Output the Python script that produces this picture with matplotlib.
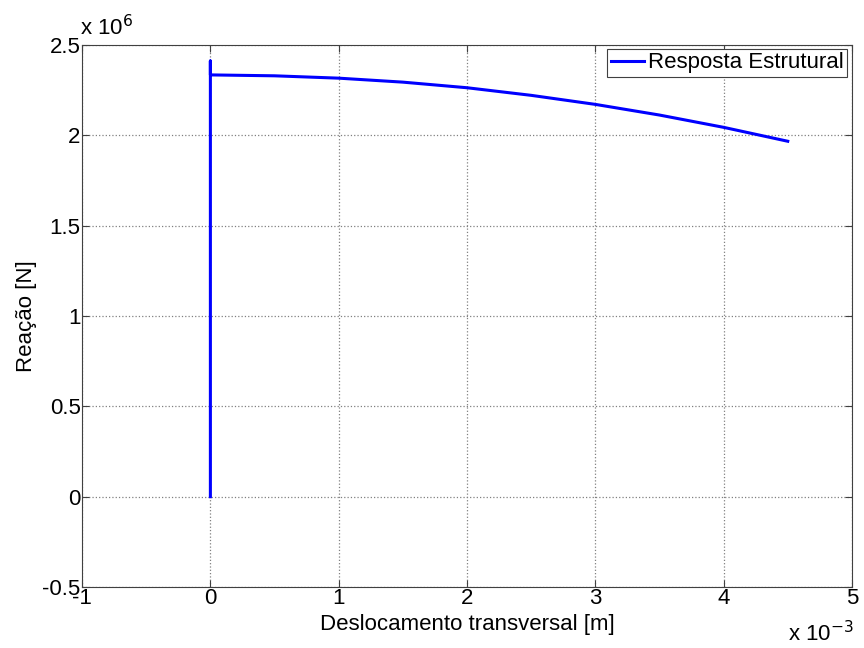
import matplotlib
matplotlib.use("Agg")
import matplotlib.pyplot as plt

plt.rcParams['font.family'] = ['Liberation Sans', 'DejaVu Sans']

# deslocamento em 1e-3 m, reacao em 1e6 N
desloc = [0.0, 0.0, 0.0, 0.5, 1.0, 1.5, 2.0, 2.5, 3.0, 3.5, 4.0, 4.5]
reacao = [0.0, 2.41, 2.333, 2.328, 2.315, 2.293, 2.262, 2.220, 2.170, 2.111, 2.043, 1.966]

xticks = [-1, 0, 1, 2, 3, 4, 5]
yticks = [-0.5, 0, 0.5, 1, 1.5, 2, 2.5]

fig = plt.figure(figsize=(8.64, 6.48), dpi=100)
ax = fig.add_axes([0.095, 0.094, 0.891, 0.837])

ax.plot(desloc, reacao, color='#0000ff', lw=2.2, label='Resposta Estrutural')

ax.set_xlim(-1, 5)
ax.set_ylim(-0.5, 2.5)
ax.set_xticks(xticks)
ax.set_yticks(yticks)
ax.set_xticklabels([f'{t:g}' for t in xticks])
ax.set_yticklabels([f'{t:g}' for t in yticks])
ax.tick_params(direction='in', top=True, right=True, labelsize=16, length=5,
               color='#404040', pad=1)
for s in ax.spines.values():
    s.set_color('#404040')
ax.grid(True, linestyle=':', color='#808080', lw=0.9)

ax.set_xlabel('Deslocamento transversal [m]', fontsize=16, labelpad=3)
ax.set_ylabel('Reação [N]', fontsize=16, labelpad=4)

ax.text(-0.003, 1.008, r'x 10$^{6}$', transform=ax.transAxes, fontsize=16,
        ha='left', va='bottom')
ax.text(1.002, -0.1, r'x 10$^{-3}$', transform=ax.transAxes, fontsize=16,
        ha='right', va='baseline')

leg = ax.legend(loc='upper right', fontsize=16, handlelength=1.5,
                handletextpad=0.2, borderpad=0.15, borderaxespad=0.2,
                fancybox=False, framealpha=1)
leg.get_frame().set_edgecolor('#404040')
leg.get_frame().set_linewidth(0.8)

fig.savefig('out.png', dpi=100)
